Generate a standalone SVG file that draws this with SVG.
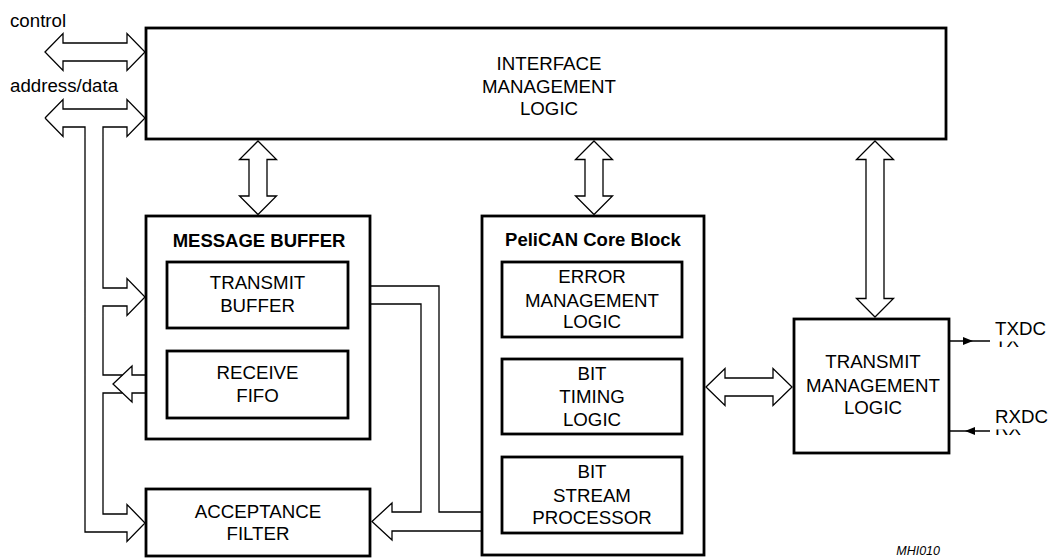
<svg xmlns="http://www.w3.org/2000/svg" width="1048" height="558" viewBox="0 0 1048 558">
<style>
.box{fill:#fff;stroke:#000;stroke-width:2.8}
.ibox{fill:none;stroke:#000;stroke-width:2.8}
.arw{fill:#fff;stroke:#000;stroke-width:1.3;stroke-linejoin:miter}
.ln{fill:none;stroke:#000;stroke-width:1.3}
.sig{fill:none;stroke:#000;stroke-width:1.3}
text{font-family:"Liberation Sans",Arial,Helvetica,sans-serif;font-size:18.7px;fill:#000}
.c{text-anchor:middle}
.b{font-weight:bold;font-size:18.5px}
.mhi{font-style:italic;font-size:12.5px;text-anchor:end}
</style>
<defs>
<clipPath id="clipTX"><rect x="990" y="341.5" width="58" height="10"/></clipPath>
<clipPath id="clipRX"><rect x="990" y="429.5" width="58" height="10"/></clipPath>
</defs>
<rect width="1048" height="558" fill="#fff"/>

<g id="interface-management-logic">
<rect class="box" x="146" y="28" width="800" height="111"/>
<text class="c" x="549" y="70">INTERFACE</text>
<text class="c" x="549" y="93">MANAGEMENT</text>
<text class="c" x="549" y="115">LOGIC</text>
</g>

<g id="message-buffer">
<rect class="box" x="146" y="216" width="224" height="223"/>
<text class="c b" x="259" y="247">MESSAGE BUFFER</text>
<g id="transmit-buffer">
<rect class="ibox" x="167" y="262" width="181" height="66"/>
<text class="c" x="257.5" y="289">TRANSMIT</text>
<text class="c" x="257.5" y="312">BUFFER</text>
</g>
<g id="receive-fifo">
<rect class="ibox" x="167" y="351" width="181" height="67"/>
<text class="c" x="257.5" y="379">RECEIVE</text>
<text class="c" x="257.5" y="402">FIFO</text>
</g>
</g>

<g id="acceptance-filter">
<rect class="box" x="146" y="489" width="224" height="67"/>
<text class="c" x="258" y="518">ACCEPTANCE</text>
<text class="c" x="258" y="540">FILTER</text>
</g>

<g id="pelican-core-block">
<rect class="box" x="482" y="216" width="222" height="339"/>
<text class="c b" x="593" y="246">PeliCAN Core Block</text>
<g id="error-management-logic">
<rect class="ibox" x="502" y="262" width="180" height="75"/>
<text class="c" x="592" y="283">ERROR</text>
<text class="c" x="592" y="307">MANAGEMENT</text>
<text class="c" x="592" y="328">LOGIC</text>
</g>
<g id="bit-timing-logic">
<rect class="ibox" x="502" y="359" width="180" height="75"/>
<text class="c" x="592" y="380">BIT</text>
<text class="c" x="592" y="403">TIMING</text>
<text class="c" x="592" y="426">LOGIC</text>
</g>
<g id="bit-stream-processor">
<rect class="ibox" x="502" y="457" width="180" height="76"/>
<text class="c" x="592" y="478">BIT</text>
<text class="c" x="592" y="502">STREAM</text>
<text class="c" x="592" y="524">PROCESSOR</text>
</g>
</g>

<g id="transmit-management-logic">
<rect class="box" x="794" y="319" width="155" height="134"/>
<text class="c" x="873" y="368">TRANSMIT</text>
<text class="c" x="873" y="392">MANAGEMENT</text>
<text class="c" x="873" y="414">LOGIC</text>
</g>

<g id="labels">
<text x="10" y="27">control</text>
<text x="10" y="92">address/data</text>
<text x="995" y="335">TXDC</text>
<text x="995" y="347" clip-path="url(#clipTX)">TX</text>
<text x="995" y="423">RXDC</text>
<text x="995" y="435" clip-path="url(#clipRX)">RX</text>
<text class="mhi" x="940" y="555">MHI010</text>
</g>

<g id="connectors">
<!-- control bus -->
<polygon class="arw" points="45,52 63,33.5 63,43 127,43 127,33.5 145,52 127,70.5 127,61 63,61 63,70.5"/>
<!-- address/data bus with branches -->
<path class="ln" d="M45,118 L63,99.5 L63,109 L127,109 L127,99.5 L145,118 L127,136.5 L127,127 L103,127 L103,288 L127,288 L127,278.5 L145,297 L127,315.5 L127,306 L103,306 L103,375 L122.5,375 M122.5,393 L103,393 L103,514 L127,514 L127,504.5 L145,523 L127,541.5 L127,532 L85,532 L85,127 L63,127 L63,136.5 L45,118"/>
<!-- receive fifo outgoing arrow -->
<polyline class="ln" points="146,375 132,375 132,366 113,384 132,402 132,393 146,393"/>
<!-- vertical arrows from interface -->
<polygon class="arw" points="258,141 276.5,159.5 267,159.5 267,196 276.5,196 258,214.5 239.5,196 249,196 249,159.5 239.5,159.5"/>
<polygon class="arw" points="594,141 612.5,159.5 603,159.5 603,196 612.5,196 594,214.5 575.5,196 585,196 585,159.5 575.5,159.5"/>
<polygon class="arw" points="875,141 893.5,159.5 884,159.5 884,298.5 893.5,298.5 875,317 856.5,298.5 866,298.5 866,159.5 856.5,159.5"/>
<!-- PeliCAN <-> TML -->
<polygon class="arw" points="706,387 725,368.5 725,378 773,378 773,368.5 792,387 773,405.5 773,396 725,396 725,405.5"/>
<!-- transmit buffer -> PeliCAN / acceptance filter -->
<polyline class="ln" points="370,286 439,286 439,512 481,512"/>
<polyline class="ln" points="370,304 421,304 421,512 392,512 392,503 372,521.5 392,540 392,531 481,531"/>
<!-- TX / RX signals -->
<line class="sig" x1="949" y1="341" x2="990" y2="341"/>
<polygon points="963,337 973,341 963,345" fill="#000"/>
<line class="sig" x1="949" y1="431" x2="990" y2="431"/>
<polygon points="975,427 965,431 975,435" fill="#000"/>
</g>
</svg>
